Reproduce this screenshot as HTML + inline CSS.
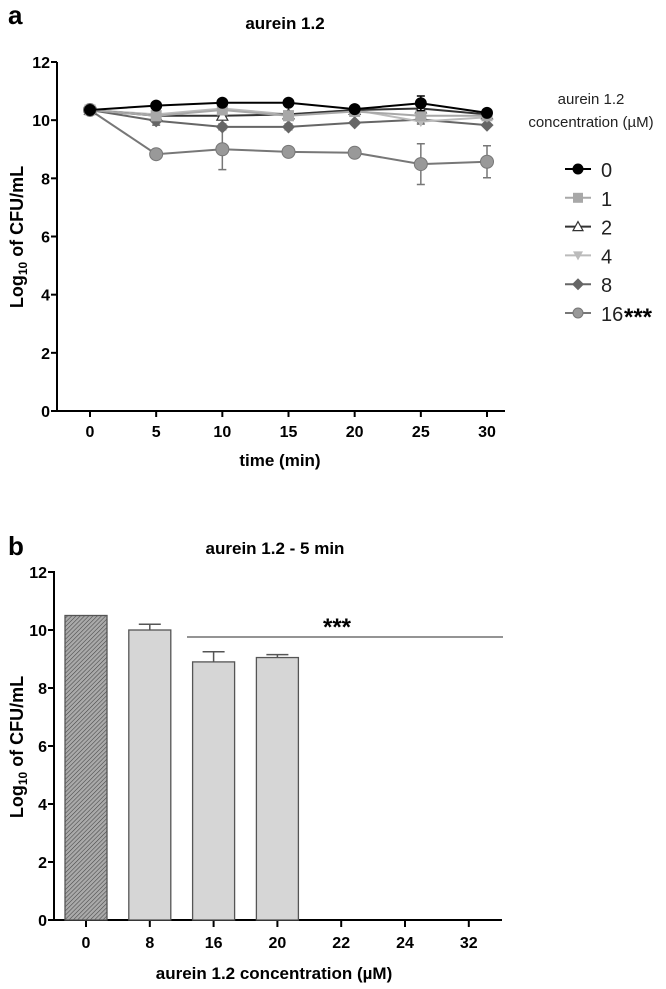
<!DOCTYPE html>
<html><head><meta charset="utf-8"><style>
body{margin:0;background:#fff;width:666px;height:984px;overflow:hidden}
svg{font-family:"Liberation Sans",Arial,sans-serif}
</style></head><body>
<svg id="s" width="666" height="984" viewBox="0 0 666 984" xmlns="http://www.w3.org/2000/svg">
<defs><pattern id="hatch" width="3" height="3" patternUnits="userSpaceOnUse" patternTransform="rotate(45)"><rect width="3" height="3" fill="#aaa"/><line x1="0" y1="0" x2="0" y2="3" stroke="#444" stroke-width="1.1"/></pattern></defs>
<text x="8" y="24" font-size="26" font-weight="bold">a</text>
<text x="285" y="29" font-size="17" font-weight="bold" text-anchor="middle">aurein 1.2</text>
<text x="8" y="555" font-size="26" font-weight="bold">b</text>
<text x="275" y="554" font-size="17" font-weight="bold" text-anchor="middle">aurein 1.2 - 5 min</text>
<g id="ga"></g><g id="gb"></g>
</svg>
<script>
const NS="http://www.w3.org/2000/svg";
function mk(p,t,a,txt){const e=document.createElementNS(NS,t);for(const k in a)e.setAttribute(k,a[k]);if(txt!==undefined)e.textContent=txt;p.appendChild(e);return e;}
// Chart A data
const timesA=[0,5,10,15,20,25,30];
const yTicksA=[0,2,4,6,8,10,12];
const seriesNames=["0","1","2","4","8","16"];
const s0=[10.35,10.5,10.6,10.6,10.38,10.58,10.25];
const s1=[10.35,10.15,10.35,10.15,10.3,10.15,10.15];
const s2=[10.35,10.15,10.15,10.2,10.35,10.4,10.2];
const s4=[10.35,10.2,10.4,10.2,10.35,9.95,10.1];
const s8=[10.35,9.98,9.77,9.77,9.91,10.02,9.83];
const s16=[10.35,8.83,9.0,8.91,8.88,8.49,8.57];
const err8=[0,0.15,0.1,0.1,0.05,0.15,0.05];
const err16=[0,0.12,0.7,0.12,0.05,0.7,0.55];
const err0=[0,0,0,0,0,0.25,0.1];
// Chart B data
const concB=["0","8","16","20","22","24","32"];
const valsB=[10.5,10.0,8.9,9.05,0,0,0];
const errB=[0,0.2,0.35,0.1,0,0,0];
const yTicksB=[0,2,4,6,8,10,12];

const ga=document.getElementById('ga');
const xA=t=>90+t*(397/30), yA=v=>411-v*(349/12);
let ax=mk(ga,'line',{x1:57,y1:62,x2:57,y2:412,stroke:'#000','stroke-width':2});

ax=mk(ga,'line',{x1:56,y1:411,x2:505,y2:411,stroke:'#000','stroke-width':2});

yTicksA.forEach(v=>{mk(ga,'line',{x1:51,y1:yA(v),x2:57,y2:yA(v),stroke:'#000','stroke-width':2});
 const t=mk(ga,'text',{x:50,y:yA(v)+6,'font-size':16,'font-weight':'bold','text-anchor':'end'},v);
 });
timesA.forEach(v=>{mk(ga,'line',{x1:xA(v),y1:411,x2:xA(v),y2:417,stroke:'#000','stroke-width':2});
 const t=mk(ga,'text',{x:xA(v),y:437,'font-size':16,'font-weight':'bold','text-anchor':'middle'},v);
 });
let lab=mk(ga,'text',{x:280,y:466,'font-size':17,'font-weight':'bold','text-anchor':'middle'},'time (min)');

lab=mk(ga,'text',{transform:'translate(23,237) rotate(-90)','font-size':18,'font-weight':'bold','text-anchor':'middle'});
lab.innerHTML='Log<tspan font-size="12" dy="4">10</tspan><tspan dy="-4"> of CFU/mL</tspan>';


const styles=[
 {d:s0,e:err0,c:'#000',m:'circle',f:'#000'},
 {d:s1,e:null,c:'#a8a8a8',m:'square',f:'#a8a8a8'},
 {d:s2,e:null,c:'#333',m:'tri',f:'#fff'},
 {d:s4,e:null,c:'#bbb',m:'tridown',f:'#bbb'},
 {d:s8,e:err8,c:'#666',m:'diamond',f:'#666'},
 {d:s16,e:err16,c:'#777',m:'circle',f:'#999'}];
function marker(p,type,x,y,c,f,r){
 let e;
 if(type==='circle')e=mk(p,'circle',{cx:x,cy:y,r:r,fill:f,stroke:c,'stroke-width':1});
 else if(type==='square')e=mk(p,'rect',{x:x-r,y:y-r,width:2*r,height:2*r,fill:f});
 else if(type==='tri')e=mk(p,'polygon',{points:`${x},${y-r} ${x-r},${y+r*0.8} ${x+r},${y+r*0.8}`,fill:f,stroke:c,'stroke-width':1.2});
 else if(type==='tridown')e=mk(p,'polygon',{points:`${x},${y+r} ${x-r},${y-r*0.8} ${x+r},${y-r*0.8}`,fill:f});
 else e=mk(p,'polygon',{points:`${x},${y-r*1.2} ${x+r*1.2},${y} ${x},${y+r*1.2} ${x-r*1.2},${y}`,fill:f});
 return e;}
[...styles].reverse().forEach((s,ri)=>{
 const i=styles.length-1-ri;
 const g=mk(ga,'g',{});
 
 if(s.e)s.d.forEach((v,j)=>{if(s.e[j]>0){const x=xA(timesA[j]);
  mk(g,'path',{d:`M${x},${yA(v-s.e[j])}V${yA(v+s.e[j])}M${x-4},${yA(v-s.e[j])}H${x+4}M${x-4},${yA(v+s.e[j])}H${x+4}`,stroke:s.c,'stroke-width':1.5,fill:'none'});}});
 mk(g,'polyline',{points:s.d.map((v,j)=>xA(timesA[j])+','+yA(v)).join(' '),fill:'none',stroke:s.c,'stroke-width':2});
 s.d.forEach((v,j)=>{const m=marker(g,s.m,xA(timesA[j]),yA(v),s.c,s.f,i===5?6.5:5.5);
  });
});
const lg=mk(ga,'g',{});
mk(lg,'text',{x:591,y:104,'font-size':15,'text-anchor':'middle',fill:'#222'},'aurein 1.2');
mk(lg,'text',{x:591,y:127,'font-size':15,'text-anchor':'middle',fill:'#222'},'concentration (\u00b5M)');
styles.forEach((s,i)=>{const y=169+i*28.8;
 const e=mk(lg,'g',{});
 mk(e,'line',{x1:565,y1:y,x2:591,y2:y,stroke:s.c,'stroke-width':2});
 marker(e,s.m,578,y,s.c,s.f,5);
 mk(e,'text',{x:601,y:y+8,'font-size':20,fill:'#222'},seriesNames[i]);
 if(i===5)mk(e,'text',{x:624,y:y+12,'font-size':24,'font-weight':'bold'},'***');
});
// Chart B
const gb=document.getElementById('gb');
const xB=i=>86+i*63.8, yB=v=>920-v*(348/12);
ax=mk(gb,'line',{x1:54,y1:571,x2:54,y2:921,stroke:'#000','stroke-width':2});

ax=mk(gb,'line',{x1:53,y1:920,x2:502,y2:920,stroke:'#000','stroke-width':2});

yTicksB.forEach(v=>{mk(gb,'line',{x1:48,y1:yB(v),x2:54,y2:yB(v),stroke:'#000','stroke-width':2});
 const t=mk(gb,'text',{x:47,y:yB(v)+6,'font-size':16,'font-weight':'bold','text-anchor':'end'},v);
 });
concB.forEach((c,i)=>{const x=xB(i);
 mk(gb,'line',{x1:x,y1:920,x2:x,y2:927,stroke:'#000','stroke-width':2});
 const t=mk(gb,'text',{x:x,y:948,'font-size':16,'font-weight':'bold','text-anchor':'middle'},c);
 
 if(valsB[i]>0){
  if(errB[i]>0)mk(gb,'path',{d:`M${x},${yB(valsB[i])}V${yB(valsB[i]+errB[i])}M${x-11},${yB(valsB[i]+errB[i])}H${x+11}`,stroke:'#555','stroke-width':1.5,fill:'none'});
  const b=mk(gb,'rect',{x:x-21,y:yB(valsB[i]),width:42,height:yB(0)-yB(valsB[i]),fill:i===0?'url(#hatch)':'#d6d6d6',stroke:'#555','stroke-width':1.3});
  }
});
let sig=mk(gb,'line',{x1:187,y1:637,x2:503,y2:637,stroke:'#555','stroke-width':1.3});

sig=mk(gb,'text',{x:337,y:635,'font-size':24,'font-weight':'bold','text-anchor':'middle'},'***');

lab=mk(gb,'text',{x:274,y:979,'font-size':17,'font-weight':'bold','text-anchor':'middle'},'aurein 1.2 concentration (\u00b5M)');

lab=mk(gb,'text',{transform:'translate(23,747) rotate(-90)','font-size':18,'font-weight':'bold','text-anchor':'middle'});
lab.innerHTML='Log<tspan font-size="12" dy="4">10</tspan><tspan dy="-4"> of CFU/mL</tspan>';

</script>
</body></html>
